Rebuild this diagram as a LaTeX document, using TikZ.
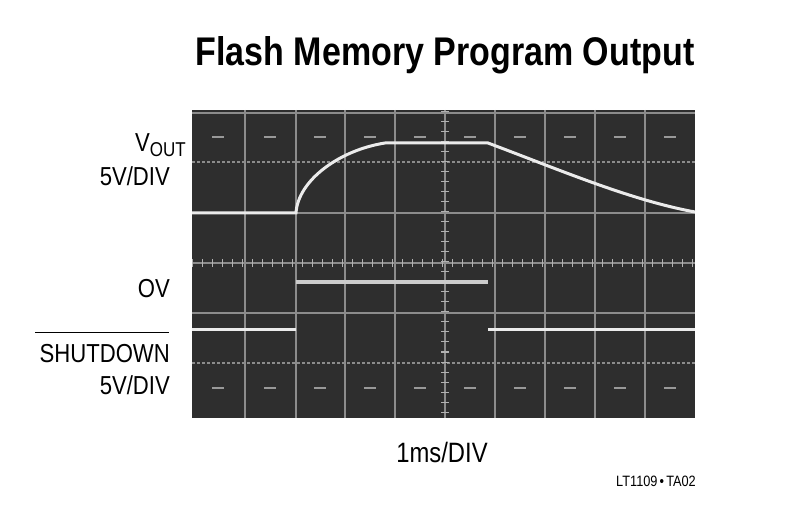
\documentclass[tikz,border=0pt]{standalone}
\usepackage{fontspec}
\setmainfont{Liberation Sans}
\begin{document}
\begin{tikzpicture}[x=1pt,y=-1pt,
  grid/.style={draw=white!55!black,line width=1.6pt},
  trace/.style={draw=white!92!black,line width=3pt},
  lbl/.style={font=\fontsize{26}{28}\selectfont,anchor=east,inner sep=0pt}]
\useasboundingbox (0,0) rectangle (792,510);
\fill[black!82] (192,110) rectangle (695,418);
\foreach \x in {245,296,345,395,495,545,595,645} \draw[grid] (\x,110) -- (\x,418);
\foreach \y in {213,313} \draw[grid] (192,\y) -- (695,\y);
\foreach \y in {162,363} \draw[grid,dash pattern=on 3pt off 2pt] (192,\y) -- (695,\y);
\draw[grid,line width=1.2pt] (192,113) -- (695,113);
\draw[grid] (445,110) -- (445,418);
\draw[grid] (192,263) -- (695,263);
\foreach \k in {0,...,50} \draw[white!70!black,line width=1pt] (192+\k*10,259) -- (192+\k*10,267);
\foreach \k in {0,...,30} \draw[white!70!black,line width=1pt] (441,112+\k*10) -- (449,112+\k*10);
\foreach \x in {218,270,320,370,420,470,520,570,620,670} {
  \draw[white!60!black,line width=1.5pt] (\x-6,137) -- (\x+6,137);
  \draw[white!60!black,line width=1.5pt] (\x-6,388) -- (\x+6,388);}
\draw[trace] (192,213) -- (296,213) .. controls (298,180) and (340,150) .. (385,143) -- (488,143) .. controls (560,170) and (630,200) .. (695,212);
\draw[draw=white!80!black,line width=4pt] (296,282) -- (488,282);
\draw[trace] (192,330) -- (296,330);
\draw[trace] (488,330) -- (695,330);
\node[font=\bfseries\fontsize{40}{44}\selectfont,xscale=0.85,inner sep=0pt] (t) at (445,55) {Flash Memory Program Output};
\node[lbl] (v) at (186,145) {\scalebox{0.85}[1]{V\raisebox{-0.4ex}{\fontsize{20}{22}\selectfont OUT}}};
\node[lbl] (v2) at (170,176) {\scalebox{0.85}[1]{5V/DIV}};
\node[lbl] (ov) at (170,289) {\scalebox{0.85}[1]{OV}};
\node[lbl] (sd) at (170,354) {\scalebox{0.85}[1]{SHUTDOWN}};
\draw[line width=1pt] (35,333) -- (169,333);
\node[lbl] (sd2) at (170,385) {\scalebox{0.85}[1]{5V/DIV}};
\node[font=\fontsize{28}{30}\selectfont,inner sep=0pt] (ms) at (442,452) {\scalebox{0.85}[1]{1ms/DIV}};
\node[font=\fontsize{15}{16}\selectfont,anchor=east,inner sep=0pt] (id) at (696,481) {\scalebox{0.85}[1]{LT1109\,\textbullet\,TA02}};
\end{tikzpicture}
\end{document}
